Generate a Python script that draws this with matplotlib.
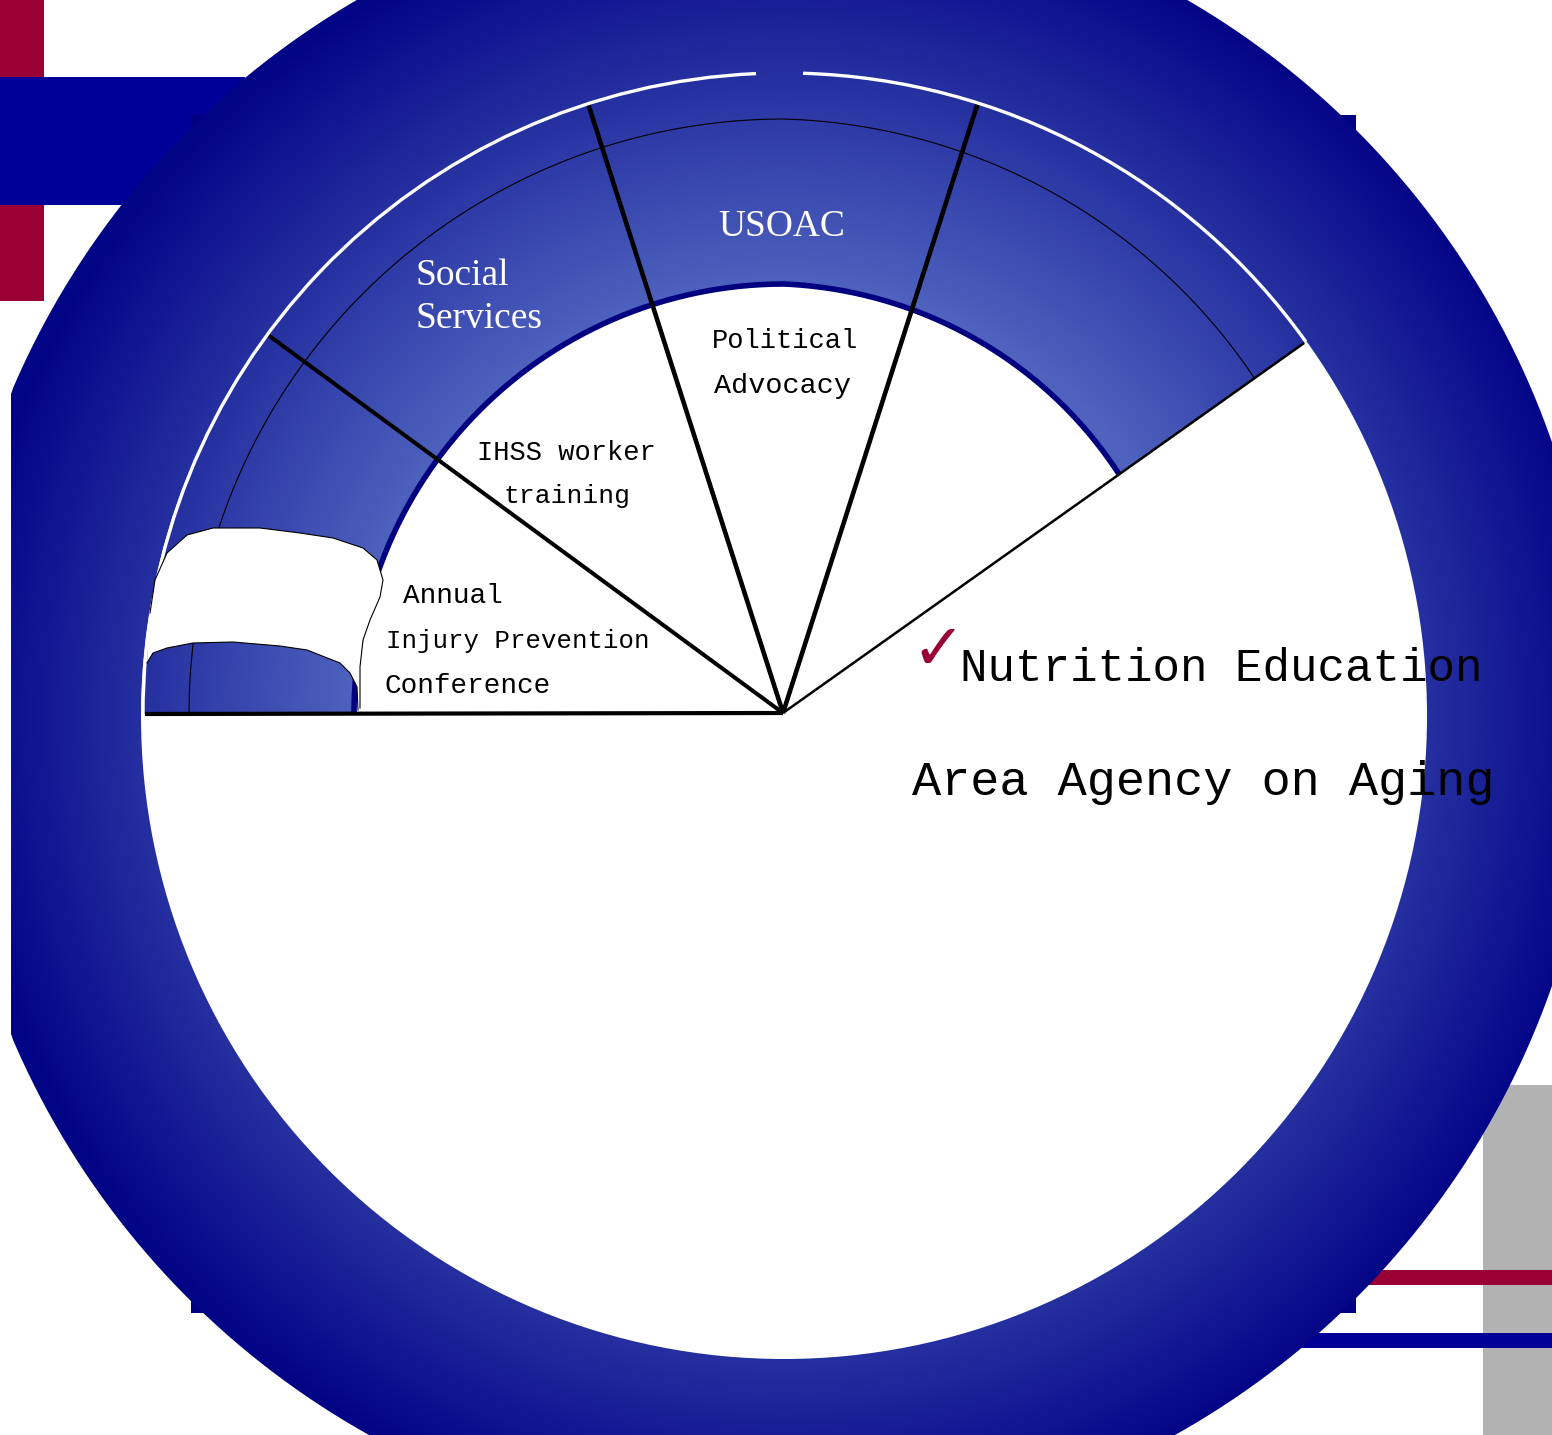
import numpy as np
import matplotlib.pyplot as plt
from matplotlib.patches import Rectangle, Circle, PathPatch, Arc
from matplotlib.path import Path

W, H = 1552, 1435

# sector boundaries of the fan (degrees, 0 = right, 90 = up)
sector_angles = [180, 143.7, 107.8, 72.4, 35.5]
sector_widths = [3.0, 2.9, 3.3, 3.3, 1.8]

# labels in the blue band (white, serif)
band_labels = ["Social", "Services", "USOAC"]
band_pos = [(415, 285, "left"), (415, 328, "left"), (782, 236, "center")]

# labels in the white inner part (black, typewriter)
inner_labels = ["Political", "Advocacy", "IHSS worker", "training",
                "Annual", "Injury Prevention", "Conference"]
inner_pos = [(785, 348, "center"), (782, 393, "center"),
             (566, 460, "center"), (567, 503, "center"),
             (403, 603, "left"), (386, 648, "left"), (384, 693, "left")]
inner_sizes = [19.5, 20.5, 19.5, 19, 20, 18.5, 20]

main_items = ["Nutrition Education", "Area Agency on Aging"]

# geometry of the wheel
ring_c, ring_r = (772, 714), 826
fan_c, disc_r = (784, 714), 643
grad_r = [430, 826]
grad_R = [78, 2]
grad_G = [98, 4]
grad_B = [190, 134]

# hand-drawn white tab in the lower left of the band
tab_top = [(150, 613), (155, 580), (167, 553), (187, 535), (213, 528), (260, 528),
           (300, 533), (333, 538), (363, 548), (377, 560), (383, 580), (380, 597),
           (370, 620), (363, 640), (360, 667), (360, 708)]
tab_bottom = [(358, 710), (357, 687), (350, 673), (340, 663), (307, 650), (280, 646),
              (233, 642), (193, 643), (167, 648), (153, 653), (147, 663)]

navy = "#000080"
blue = "#000099"
crimson = "#990033"


def pt(r, a, c=fan_c):
    t = np.radians(a)
    return c[0] + r * np.cos(t), c[1] - r * np.sin(t)


def r_inner(a):
    a = np.asarray(a, dtype=float)
    return np.where(a >= 90, 430, 412 + (a - 35.5) / 54.5 * 18)


def r_thin(a):
    a = np.asarray(a, dtype=float)
    return np.where(a >= 90, 595, 578 + (a - 35.5) / 54.5 * 17)


fig = plt.figure(figsize=(W / 100, H / 100), dpi=100)
ax = fig.add_axes([0, 0, 1, 1])
ax.set_xlim(0, W)
ax.set_ylim(H, 0)
ax.axis("off")

# background decoration
ax.add_patch(Rectangle((1483, 1085), 69, 350, color="#b2b2b2", lw=0))
ax.add_patch(Rectangle((1300, 1270), 252, 15, color=crimson, lw=0))
ax.add_patch(Rectangle((1250, 1333), 302, 15, color=blue, lw=0))
ax.add_patch(Rectangle((0, 0), 44, 77, color=crimson, lw=0))
ax.add_patch(Rectangle((0, 205), 44, 96, color=crimson, lw=0))
ax.add_patch(Rectangle((0, 77), 245, 128, color=blue, lw=0))
ax.add_patch(Rectangle((191, 115), 1165, 1198, color=navy, lw=0))

# radial gradient
yy, xx = np.mgrid[0:H, 0:W] + 0.5
rr = np.hypot(xx - fan_c[0], yy - 716)
img = np.dstack([np.interp(rr, grad_r, grad_R), np.interp(rr, grad_r, grad_G),
                 np.interp(rr, grad_r, grad_B)]) / 255.0

th = np.linspace(0, 2 * np.pi, 720)
ring_x = np.maximum(ring_c[0] + ring_r * np.cos(th), 11)
ring_y = ring_c[1] + ring_r * np.sin(th)
ring_patch = PathPatch(Path(np.column_stack([ring_x, ring_y])), transform=ax.transData)
im = ax.imshow(img, extent=(0, W, H, 0), interpolation="nearest", zorder=2)
im.set_clip_path(ring_patch)

ax.add_patch(Circle((fan_c[0], 716), disc_r, color="white", lw=0, zorder=3))

# blue band of the fan
a_out = np.linspace(180, sector_angles[-1], 300)
ox, oy = pt(disc_r - 1, a_out)
ix, iy = pt(r_inner(a_out[::-1]), a_out[::-1])
band_patch = PathPatch(Path(np.column_stack([np.r_[ox, ix], np.r_[oy, iy]])),
                       transform=ax.transData)
im2 = ax.imshow(img, extent=(0, W, H, 0), interpolation="nearest", zorder=4)
im2.set_clip_path(band_patch)

# white rim with a small gap at the top
ax.add_patch(Arc(fan_c, 2 * (disc_r - 2), 2 * (disc_r - 2), theta1=180, theta2=267.5,
                 color="white", lw=2.4, zorder=5))
ax.add_patch(Arc(fan_c, 2 * (disc_r - 2), 2 * (disc_r - 2), theta1=271.7, theta2=324.5,
                 color="white", lw=2.4, zorder=5))

# inner edge and thin arc
ax.plot(ix, iy, color=navy, lw=4.0, zorder=5, solid_capstyle="butt")
tx, ty = pt(r_thin(a_out), a_out)
ax.plot(tx, ty, color="black", lw=0.8, zorder=5)

# white tab
tab = tab_top + tab_bottom
ax.add_patch(PathPatch(Path(tab), facecolor="white", edgecolor="none", zorder=6))
ax.plot(*zip(*tab_top), color="black", lw=0.8, zorder=7)
ax.plot(*zip(*tab_bottom), color="black", lw=0.8, zorder=7)

# radial lines
for a, lw in zip(sector_angles, sector_widths):
    x1, y1 = pt(639, a)
    ax.plot([fan_c[0] - 1, x1], [fan_c[1] - 1, y1], color="black", lw=lw, zorder=8,
            solid_capstyle="butt")

for s, (x, y, ha) in zip(band_labels, band_pos):
    ax.text(x, y, s, color="white", fontsize=27, family="Liberation Serif",
            ha=ha, va="baseline", zorder=9)

for s, (x, y, ha), fs in zip(inner_labels, inner_pos, inner_sizes):
    ax.text(x, y, s, color="black", fontsize=fs, family="Liberation Mono",
            ha=ha, va="baseline", zorder=9)

ax.text(911, 669, "\u2713", color=crimson, fontsize=46, family="DejaVu Sans",
        ha="left", va="baseline", zorder=9)
ax.text(960, 681, main_items[0], color="black", fontsize=33, family="Liberation Mono",
        ha="left", va="baseline", zorder=9)
ax.text(912, 795, main_items[1], color="black", fontsize=35, family="Liberation Mono",
        ha="left", va="baseline", zorder=9)

fig.savefig("out.png", dpi=100)
